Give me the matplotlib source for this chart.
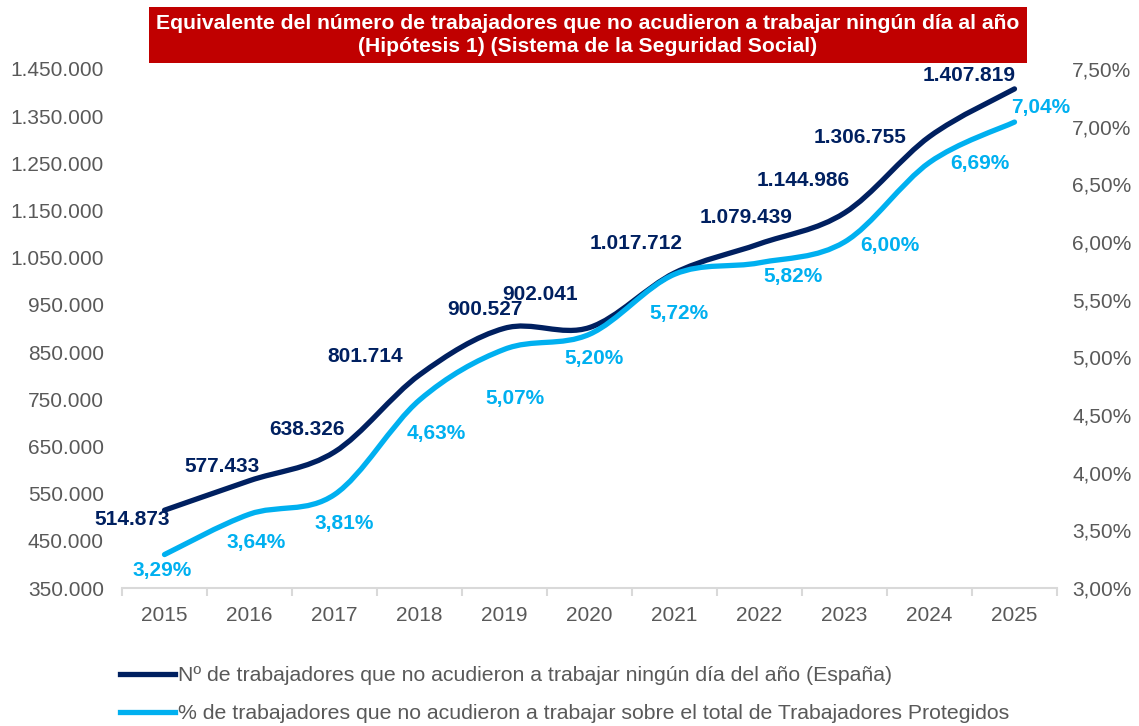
import matplotlib
matplotlib.use("Agg")
from matplotlib import pyplot as plt
from matplotlib.path import Path
from matplotlib.patches import PathPatch
from matplotlib.lines import Line2D
from matplotlib.ticker import FuncFormatter

years = ["2015", "2016", "2017", "2018", "2019", "2020",
         "2021", "2022", "2023", "2024", "2025"]
workers = [514873, 577433, 638326, 801714, 900527, 902041,
           1017712, 1079439, 1144986, 1306755, 1407819]
percent = [3.29, 3.64, 3.81, 4.63, 5.07, 5.20, 5.72, 5.82, 6.00, 6.69, 7.04]

title = ("Equivalente del número de trabajadores que no acudieron a trabajar ningún día al año\n"
         "(Hipótesis 1) (Sistema de la Seguridad Social)")
label_workers = "Nº de trabajadores que no acudieron a trabajar ningún día del año (España)"
label_percent = "% de trabajadores que no acudieron a trabajar sobre el total de Trabajadores Protegidos"

DARK = "#002060"
LIGHT = "#00B0F0"
GREY = "#595959"

# label offsets in pixels (dx, dy)
off_workers = [(-32, -9), (-27, 14), (-28, 22), (-54, 18), (-20, 19), (-49, 33),
               (-38, 29), (-13, 26), (-41, 32), (-69, -1), (-45, 13)]
off_percent = [(-2, -16), (7, -28), (10, -29), (17, -33), (10, -49), (5, -24),
               (4, -39), (34, -14), (45, -4), (50, -1), (26, 15)]


def smooth_path(xs, ys):
    # Excel-like smoothed line: Catmull-Rom converted to cubic Bezier segments
    pts = list(zip(xs, ys))
    verts = [pts[0]]
    codes = [Path.MOVETO]
    n = len(pts)
    for i in range(n - 1):
        p0 = pts[i - 1] if i > 0 else pts[i]
        p1 = pts[i]
        p2 = pts[i + 1]
        p3 = pts[i + 2] if i + 2 < n else pts[i + 1]
        c1 = (p1[0] + (p2[0] - p0[0]) / 6, p1[1] + (p2[1] - p0[1]) / 6)
        c2 = (p2[0] - (p3[0] - p1[0]) / 6, p2[1] - (p3[1] - p1[1]) / 6)
        verts += [c1, c2, p2]
        codes += [Path.CURVE4] * 3
    return Path(verts, codes)


def es_int(v, pos=None):
    return f"{int(round(v)):,}".replace(",", ".")


def es_pct(v, pos=None):
    return f"{v:.2f}%".replace(".", ",")


def main():
    plt.rcParams['font.family'] = ['Liberation Sans', 'DejaVu Sans']
    fig = plt.figure(figsize=(11.39, 7.26), dpi=100)
    W, H = 1139, 726
    ax = fig.add_axes([122 / W, 1 - 588 / H, (1057 - 122) / W, (588 - 69) / H])
    ax2 = ax.twinx()

    x = list(range(len(years)))
    ax.set_xlim(-0.5, len(years) - 0.5)
    ax.set_ylim(350000, 1450000)
    ax2.set_ylim(3.0, 7.5)

    ax.add_patch(PathPatch(smooth_path(x, workers), fill=False, edgecolor=DARK,
                           lw=3.8, capstyle='round', zorder=3))
    ax2.add_patch(PathPatch(smooth_path(x, percent), fill=False, edgecolor=LIGHT,
                            lw=3.8, capstyle='round', zorder=3))

    for xi, v, (dx, dy) in zip(x, workers, off_workers):
        ax.annotate(es_int(v), (xi, v), xytext=(dx, dy), textcoords='offset pixels',
                    ha='center', va='center', fontsize=15, fontweight='bold', color=DARK)
    for xi, v, (dx, dy) in zip(x, percent, off_percent):
        ax2.annotate(es_pct(v), (xi, v), xytext=(dx, dy), textcoords='offset pixels',
                     ha='center', va='center', fontsize=15, fontweight='bold', color=LIGHT)

    ax.set_yticks(range(350000, 1450001, 100000))
    ax.yaxis.set_major_formatter(FuncFormatter(es_int))
    ax2.set_yticks([3.0 + 0.5 * i for i in range(10)])
    ax2.yaxis.set_major_formatter(FuncFormatter(es_pct))
    ax.set_xticks(x)
    ax.set_xticklabels(years)
    ax.set_xticks([i - 0.5 for i in range(len(years) + 1)], minor=True)

    for a in (ax, ax2):
        for s in a.spines.values():
            s.set_visible(False)
    ax.spines['bottom'].set_visible(True)
    ax.spines['bottom'].set_color("#D9D9D9")
    ax.spines['bottom'].set_linewidth(1.5)

    ax.tick_params(axis='x', which='major', length=0, pad=13, labelsize=15, labelcolor=GREY)
    ax.tick_params(axis='x', which='minor', length=6, width=1.5, color="#D9D9D9")
    ax.tick_params(axis='y', length=0, pad=13, labelsize=15, labelcolor=GREY)
    ax2.tick_params(axis='y', length=0, pad=11, labelsize=15, labelcolor=GREY)

    fig.text(588 / W, 1 - 35 / H, title, ha='center', va='center', color='white',
             fontsize=15.2, fontweight='bold', linespacing=1.25,
             bbox=dict(boxstyle='square,pad=0.33', facecolor='#C00000', edgecolor='none'))

    handles = [Line2D([], [], color=DARK, lw=3.8), Line2D([], [], color=LIGHT, lw=3.8)]
    fig.legend(handles, [label_workers, label_percent], loc='upper left',
               bbox_to_anchor=(120 / W, 1 - 666 / H), frameon=False, fontsize=15.3,
               labelcolor=GREY, handlelength=2.6, handletextpad=0.15, labelspacing=0.9,
               borderpad=0, borderaxespad=0)

    fig.savefig("out.png", dpi=100)


if __name__ == '__main__':
    main()
